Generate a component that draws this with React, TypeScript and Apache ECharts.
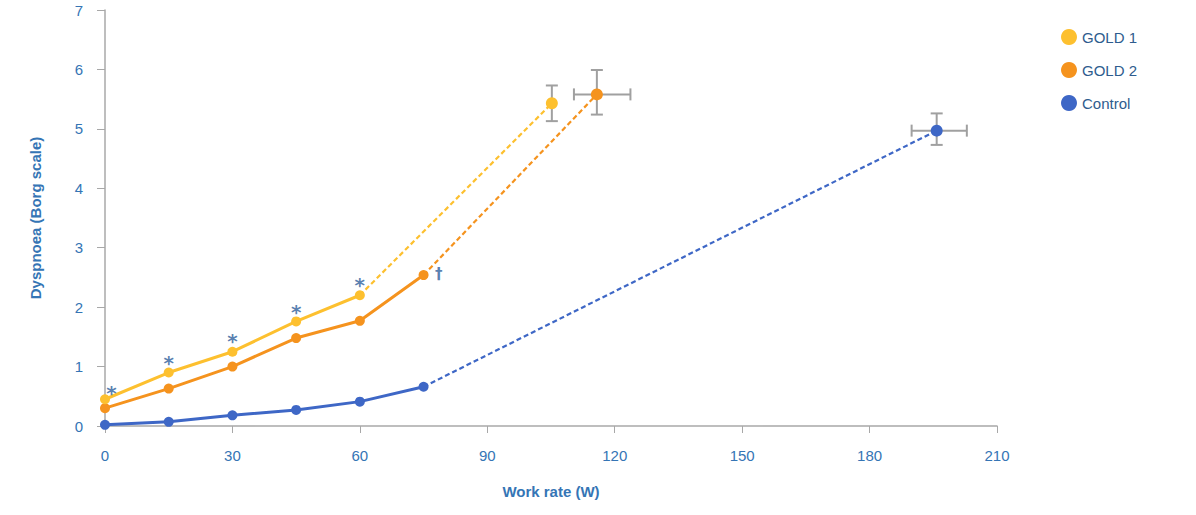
import React, { useEffect, useRef } from "react";
import * as echarts from "echarts";

const workRate = [0, 15, 30, 45, 60, 75];
const gold1 = [0.45, 0.9, 1.25, 1.76, 2.2];
const gold2 = [0.3, 0.63, 1.0, 1.48, 1.77, 2.54];
const control = [0.02, 0.07, 0.18, 0.27, 0.41, 0.66];

// peak points: [x, y, xMinus, xPlus, yMinus, yPlus]
const gold1Peak = [105.2, 5.43, 0, 0, 0.3, 0.3];
const gold2Peak = [115.8, 5.58, 5.4, 7.9, 0.34, 0.41];
const controlPeak = [195.8, 4.97, 5.9, 7.1, 0.24, 0.29];

const asteriskX = [1.5, 15, 30, 45, 60];
const asteriskY = [0.66, 1.16, 1.53, 2.02, 2.47];
const dagger = [78.6, 2.57];

const xTicks = { min: 0, max: 210, interval: 30 };
const yTicks = { min: 0, max: 7, interval: 1 };

const C_G1 = "#FDC02F";
const C_G2 = "#F5931E";
const C_CT = "#3E67C6";
const C_TXT = "#3575B5";
const FONT = "'Liberation Sans Narrow', 'Liberation Sans', Arial, sans-serif";

export default function App() {
  const ref = useRef<HTMLDivElement>(null);
  useEffect(() => {
    if (!ref.current) return;
    const chart = echarts.init(ref.current, null, { renderer: "svg" });

    const solid = (name: string, vals: number[], color: string) => ({
      name,
      type: "line",
      data: vals.map((v, i) => [workRate[i], v]),
      symbol: "circle",
      symbolSize: 10,
      itemStyle: { color },
      lineStyle: { color, width: 3 },
      z: 3,
    });
    const dashed = (name: string, from: number[], peak: number[], color: string) => ({
      name,
      type: "line",
      data: [from, [peak[0], peak[1]]],
      symbol: "circle",
      symbolSize: (_v: any, p: any) => (p.dataIndex === 1 ? 12 : 0),
      showAllSymbol: true,
      itemStyle: { color },
      lineStyle: { color, width: 2.2, type: [5, 3] },
      z: 3,
    });

    const errData = [gold1Peak, gold2Peak, controlPeak];

    chart.setOption({
      animation: false,
      textStyle: { fontFamily: FONT },
      grid: { left: 105, right: 199, top: 10, bottom: 89, containLabel: false },
      legend: {
        orient: "vertical",
        left: 1056,
        top: 24,
        icon: "circle",
        itemWidth: 16,
        itemHeight: 16,
        itemGap: 17,
        data: ["GOLD 1", "GOLD 2", "Control"],
        textStyle: { color: "#2E5C8E", fontSize: 15, fontFamily: FONT },
      },
      xAxis: {
        type: "value",
        ...xTicks,
        name: "Work rate (W)",
        nameLocation: "middle",
        nameGap: 58,
        nameTextStyle: { color: C_TXT, fontWeight: "bold", fontSize: 15, fontFamily: FONT },
        axisLine: { lineStyle: { color: "#A8A8A8", width: 1.5 } },
        axisTick: { show: true, length: 7, lineStyle: { color: "#A8A8A8" } },
        axisLabel: { color: C_TXT, fontSize: 15, margin: 22, fontFamily: FONT },
        splitLine: { show: false },
      },
      yAxis: {
        type: "value",
        ...yTicks,
        name: "Dyspnoea (Borg scale)",
        nameLocation: "middle",
        nameGap: 62,
        nameTextStyle: { color: C_TXT, fontWeight: "bold", fontSize: 15, fontFamily: FONT },
        axisLine: { show: true, lineStyle: { color: "#A8A8A8", width: 1.5 } },
        axisTick: { show: true, length: 8, lineStyle: { color: "#A8A8A8" } },
        axisLabel: { color: C_TXT, fontSize: 15, margin: 22, fontFamily: FONT },
        splitLine: { show: false },
      },
      series: [
        {
          name: "errbars",
          type: "custom",
          data: errData,
          z: 2,
          renderItem: (params: any, api: any) => {
            const x = api.value(0), y = api.value(1);
            const xm = api.value(2), xp = api.value(3), ym = api.value(4), yp = api.value(5);
            const style = { stroke: "#A0A0A0", lineWidth: 2 };
            const cap = 6;
            const children: any[] = [];
            if (ym || yp) {
              const top = api.coord([x, y + yp]);
              const bot = api.coord([x, y - ym]);
              children.push(
                { type: "line", shape: { x1: top[0], y1: top[1], x2: bot[0], y2: bot[1] }, style },
                { type: "line", shape: { x1: top[0] - cap, y1: top[1], x2: top[0] + cap, y2: top[1] }, style },
                { type: "line", shape: { x1: bot[0] - cap, y1: bot[1], x2: bot[0] + cap, y2: bot[1] }, style }
              );
            }
            if (xm || xp) {
              const l = api.coord([x - xm, y]);
              const r = api.coord([x + xp, y]);
              children.push(
                { type: "line", shape: { x1: l[0], y1: l[1], x2: r[0], y2: r[1] }, style },
                { type: "line", shape: { x1: l[0], y1: l[1] - cap, x2: l[0], y2: l[1] + cap }, style },
                { type: "line", shape: { x1: r[0], y1: r[1] - cap, x2: r[0], y2: r[1] + cap }, style }
              );
            }
            return { type: "group", children };
          },
        },
        dashed("GOLD 1", [workRate[4], gold1[4]], gold1Peak, C_G1),
        dashed("GOLD 2", [workRate[5], gold2[5]], gold2Peak, C_G2),
        dashed("Control", [workRate[5], control[5]], controlPeak, C_CT),
        solid("Control", control, C_CT),
        solid("GOLD 2", gold2, C_G2),
        solid("GOLD 1", gold1, C_G1),
        {
          name: "sig",
          type: "scatter",
          symbolSize: 1,
          itemStyle: { color: "rgba(0,0,0,0)" },
          data: asteriskX.map((x, i) => [x, asteriskY[i]]),
          label: {
            show: true,
            position: "inside",
            formatter: "*",
            color: "#2E5E9C",
            fontSize: 20,
            fontWeight: "bold",
            offset: [0, 6],
            fontFamily: "'DejaVu Sans', sans-serif",
          },
          z: 4,
        },
        {
          name: "dag",
          type: "scatter",
          symbolSize: 1,
          itemStyle: { color: "rgba(0,0,0,0)" },
          data: [dagger],
          label: {
            show: true,
            position: "inside",
            formatter: "†",
            color: "#2E5E9C",
            fontSize: 15,
            fontWeight: "bold",
            offset: [0, 1],
            fontFamily: "'DejaVu Sans', sans-serif",
          },
          z: 4,
        },
      ],
    });
    return () => chart.dispose();
  }, []);
  return <div ref={ref} style={{ width: 1196, height: 515, position: "absolute", left: 0, top: 0, background: "#fff" }} />;
}
